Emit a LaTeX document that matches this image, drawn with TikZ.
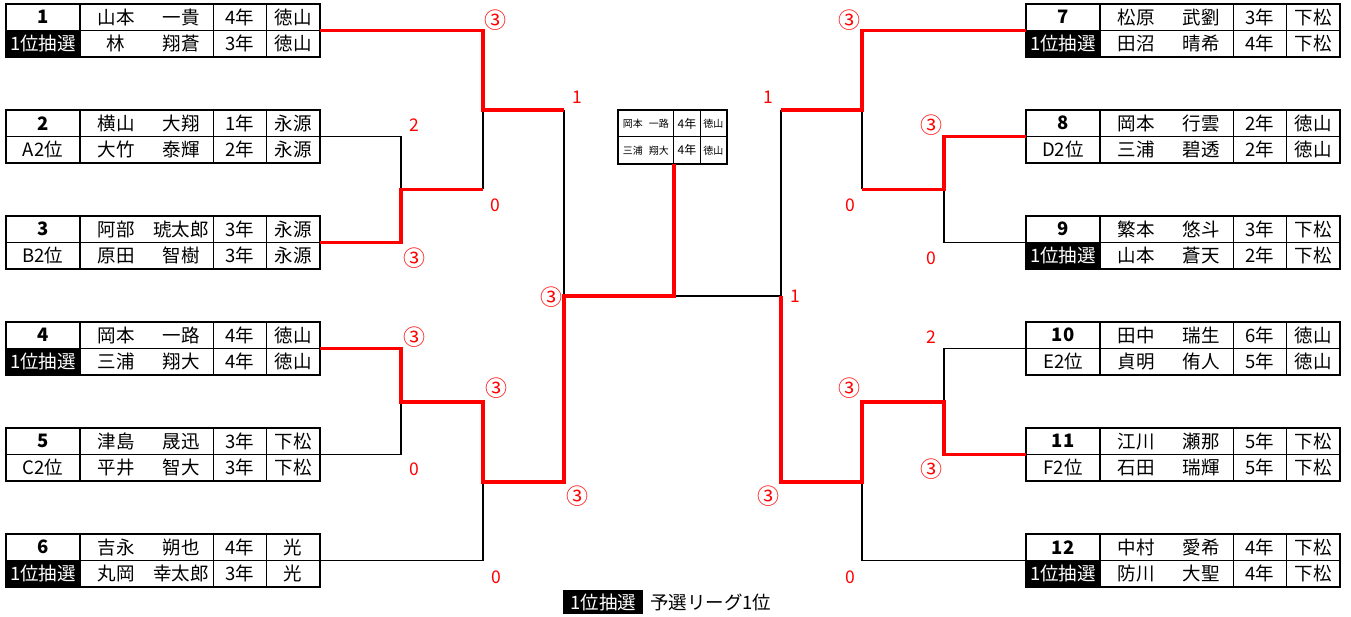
\documentclass[tikz,border=0pt]{standalone}
\usepackage{fontspec}
\setmainfont{Noto Sans CJK JP}
\newcommand\tfs{\fontsize{18.5}{20}\selectfont}
\newcommand\sfs{\fontsize{17.5}{19}\selectfont}
\newcommand\cfs{\fontsize{22}{24}\selectfont}
\newcommand\mfs{\fontsize{10}{12}\selectfont}
\tikzset{
  cell/.style={draw, line width=0.9pt, minimum height=26.5pt, anchor=north west, inner sep=0pt, outer sep=0pt, font=\tfs},
  txt/.style={inner sep=0pt, font=\tfs},
  seed/.style={fill=black, text=white},
  win/.style={draw=red, line width=3.2pt},
  loss/.style={draw=black, line width=1.8pt},
  score/.style={text=red, font=\sfs, inner sep=0pt},
  circ/.style={text=red, font=\cfs, inner sep=0pt},
  mcell/.style={draw, line width=0.9pt, minimum height=26.5pt, anchor=north west, inner sep=0pt, font=\mfs},
}
% #1 name, #2 x, #3 y top, #4 col1 style, #5 col1 text, #6 sur, #7 given, #8 year, #9 team
\newcommand\prow[9]{%
  \node[cell, minimum width=74pt, #4] (#1a) at (#2,#3) {#5};
  \node[cell, minimum width=133pt] (#1b) at (#2+74,#3) {};
  \node[txt] (#1s) at (#2+110,#3+13.25) {#6};
  \node[txt] (#1g) at (#2+175,#3+13.25) {#7};
  \node[cell, minimum width=53pt] (#1c) at (#2+207,#3) {#8};
  \node[cell, minimum width=54pt] (#1d) at (#2+260,#3) {#9};
}
\newcommand\tframe[1]{%
  \draw[line width=1.6pt] (#1ua.north west) rectangle (#1la.south east);
  \draw[line width=2.4pt] (#1ua.north west) rectangle (#1ld.south east);
}
\begin{document}
\begin{tikzpicture}[x=1pt, y=-1pt]
\useasboundingbox (0,0) rectangle (1351,617);

% ---------- left tables ----------
\prow{t1u}{6}{4}{}{\bfseries 1}{山本}{一貴}{4年}{徳山}
\prow{t1l}{6}{30.5}{seed}{1位抽選}{林}{翔蒼}{3年}{徳山}
\tframe{t1}
\prow{t2u}{6}{110}{}{\bfseries 2}{横山}{大翔}{1年}{永源}
\prow{t2l}{6}{136.5}{}{A2位}{大竹}{泰輝}{2年}{永源}
\tframe{t2}
\prow{t3u}{6}{216}{}{\bfseries 3}{阿部}{琥太郎}{3年}{永源}
\prow{t3l}{6}{242.5}{}{B2位}{原田}{智樹}{3年}{永源}
\tframe{t3}
\prow{t4u}{6}{322}{}{\bfseries 4}{岡本}{一路}{4年}{徳山}
\prow{t4l}{6}{348.5}{seed}{1位抽選}{三浦}{翔大}{4年}{徳山}
\tframe{t4}
\prow{t5u}{6}{428}{}{\bfseries 5}{津島}{晟迅}{3年}{下松}
\prow{t5l}{6}{454.5}{}{C2位}{平井}{智大}{3年}{下松}
\tframe{t5}
\prow{t6u}{6}{534}{}{\bfseries 6}{吉永}{朔也}{4年}{光}
\prow{t6l}{6}{560.5}{seed}{1位抽選}{丸岡}{幸太郎}{3年}{光}
\tframe{t6}

% ---------- right tables ----------
\prow{t7u}{1026}{4}{}{\bfseries 7}{松原}{武劉}{3年}{下松}
\prow{t7l}{1026}{30.5}{seed}{1位抽選}{田沼}{晴希}{4年}{下松}
\tframe{t7}
\prow{t8u}{1026}{110}{}{\bfseries 8}{岡本}{行雲}{2年}{徳山}
\prow{t8l}{1026}{136.5}{}{D2位}{三浦}{碧透}{2年}{徳山}
\tframe{t8}
\prow{t9u}{1026}{216}{}{\bfseries 9}{繁本}{悠斗}{3年}{下松}
\prow{t9l}{1026}{242.5}{seed}{1位抽選}{山本}{蒼天}{2年}{下松}
\tframe{t9}
\prow{t10u}{1026}{322}{}{\bfseries 10}{田中}{瑞生}{6年}{徳山}
\prow{t10l}{1026}{348.5}{}{E2位}{貞明}{侑人}{5年}{徳山}
\tframe{t10}
\prow{t11u}{1026}{428}{}{\bfseries 11}{江川}{瀬那}{5年}{下松}
\prow{t11l}{1026}{454.5}{}{F2位}{石田}{瑞輝}{5年}{下松}
\tframe{t11}
\prow{t12u}{1026}{534}{}{\bfseries 12}{中村}{愛希}{4年}{下松}
\prow{t12l}{1026}{560.5}{seed}{1位抽選}{防川}{大聖}{4年}{下松}
\tframe{t12}

% ---------- center box ----------
\node[mcell, minimum width=55pt] (m1a) at (618,110) {岡本\hspace{0.6em}一路};
\node[mcell, minimum width=27pt, font=\fontsize{12}{14}\selectfont] (m1b) at (673,110) {4年};
\node[mcell, minimum width=26pt] (m1c) at (700,110) {徳山};
\node[mcell, minimum width=55pt] (m2a) at (618,136.5) {三浦\hspace{0.6em}翔大};
\node[mcell, minimum width=27pt, font=\fontsize{12}{14}\selectfont] (m2b) at (673,136.5) {4年};
\node[mcell, minimum width=26pt] (m2c) at (700,136.5) {徳山};
\draw[line width=1.8pt] (m1a.north west) rectangle (m2c.south east);

% ---------- junction coordinates ----------
\coordinate (LA) at (401,189.5);
\coordinate (LAo) at (483,189.5);
\coordinate (LB) at (483,110);
\coordinate (LBo) at (564,110);
\coordinate (LC) at (401,402);
\coordinate (LCo) at (483,402);
\coordinate (LD) at (483,482);
\coordinate (LDo) at (564,482);
\coordinate (LE) at (564,296);
\coordinate (RA) at (944,189.5);
\coordinate (RAo) at (862,189.5);
\coordinate (RB) at (862,110);
\coordinate (RBo) at (781,110);
\coordinate (RC) at (944,402);
\coordinate (RCo) at (862,402);
\coordinate (RD) at (862,482);
\coordinate (RDo) at (781,482);
\coordinate (RE) at (781,296);
\coordinate (F) at (LE -| m2a.south east);

% ---------- losing lines ----------
\draw[loss] (t2ud.south east) -| (LA);
\draw[loss] (LAo) -- (LB);
\draw[loss] (t5ud.south east) -| (LC);
\draw[loss] (t6ud.south east) -| (LD);
\draw[loss] (LBo) -- (LE);
\draw[loss] (F) -- (RE);
\draw[loss] (t9ua.south west) -| (RA);
\draw[loss] (RAo) -- (RB);
\draw[loss] (t10ua.south west) -| (RC);
\draw[loss] (t12ua.south west) -| (RD);
\draw[loss] (RBo) -- (RE);

% ---------- winning lines ----------
\draw[win] (t1ud.south east) -| (LB) -- (LBo);
\draw[win] (t3ud.south east) -| (LA) -- (LAo);
\draw[win] (t4ud.south east) -| (LC) -- (LCo) -- (LD) -- (LDo) -- (LE) -- (F) -- (m2a.south east);
\draw[win] (t7ua.south west) -| (RB) -- (RBo);
\draw[win] (t8ua.south west) -| (RA) -- (RAo);
\draw[win] (t11ua.south west) -| (RC) -- (RCo) -- (RD) -- (RDo) -- (RE);

% ---------- scores ----------
\node[circ] (sl1) at (495,20) {③};
\node[score] (sl2) at (414,125) {2};
\node[score] (sl3) at (495,205) {0};
\node[circ] (sl4) at (414,258) {③};
\node[score] (sl5) at (577,97) {1};
\node[circ] (sl6) at (414,337) {③};
\node[score] (sl7) at (414,469) {0};
\node[circ] (sl8) at (496,388) {③};
\node[score] (sl9) at (496,577) {0};
\node[circ] (sl10) at (577,496) {③};
\node[circ] (sl11) at (551,297) {③};
\node[circ] (sr1) at (849,20) {③};
\node[score] (sr2) at (768,97) {1};
\node[circ] (sr3) at (931,125) {③};
\node[score] (sr4) at (850,205) {0};
\node[score] (sr5) at (931,258) {0};
\node[score] (sr6) at (931,337) {2};
\node[circ] (sr7) at (849,388) {③};
\node[circ] (sr8) at (931,469) {③};
\node[score] (sr9) at (850,577) {0};
\node[circ] (sr10) at (768,496) {③};
\node[score] (sr11) at (795,296) {1};

% ---------- legend ----------
\node[seed, font=\tfs, minimum width=80pt, minimum height=24pt, inner sep=0pt, anchor=west] (lg1) at (563,602) {1位抽選};
\node[font=\tfs, inner sep=0pt, anchor=west] (lg2) at (650,602) {予選リーグ1位};
\end{tikzpicture}
\end{document}
